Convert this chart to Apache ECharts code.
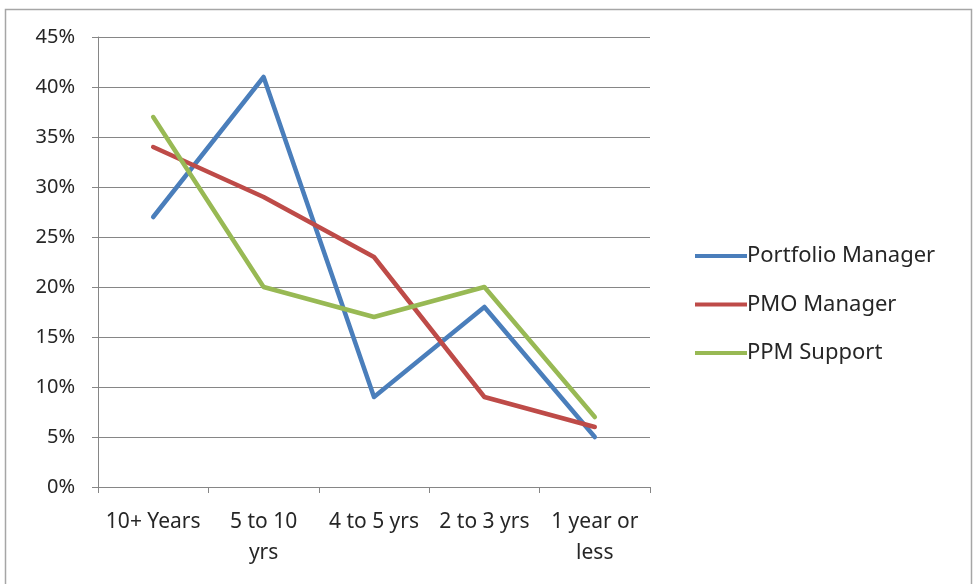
<!DOCTYPE html>
<html><head><meta charset="utf-8">
<script src="https://cdn.jsdelivr.net/npm/echarts@6/dist/echarts.min.js"></script>
<style>html,body{margin:0;padding:0;background:#fff}#c{width:976px;height:584px}</style>
</head><body><div id="c"></div>
<script>
const categories = ['10+ Years', '5 to 10\nyrs', '4 to 5 yrs', '2 to 3 yrs', '1 year or\nless'];
const portfolioManager = [27, 41, 9, 18, 5];
const pmoManager = [34, 29, 23, 9, 6];
const ppmSupport = [37, 20, 17, 20, 7];
const seriesNames = ['Portfolio Manager', 'PMO Manager', 'PPM Support'];
const colors = ['#4A7EBB', '#BE4B48', '#98B954'];

const font = 'Noto Sans';
const chart = echarts.init(document.getElementById('c'));
const mk = (name, data, color) => ({
  name, type: 'line', data, symbol: 'none', smooth: false,
  lineStyle: { width: 4.5, color, cap: 'round', join: 'round' }, itemStyle: { color }
});
chart.setOption({
  animation: false,
  graphic: [{ type: 'rect', shape: { x: 5.5, y: 9.5, width: 966, height: 600 }, style: { fill: 'none', stroke: '#a6a6a6', lineWidth: 1.5 }, silent: true }],
  grid: { left: 98, right: 326, top: 37, bottom: 97 },
  legend: {
    orient: 'vertical', left: 690, top: 239, itemGap: 24.5,
    icon: 'rect', itemWidth: 52, itemHeight: 4,
    textStyle: { fontFamily: font, fontSize: 22, lineHeight: 24, color: '#262626', padding: [0, 0, 0, -5] },
    data: seriesNames
  },
  xAxis: {
    type: 'category', data: categories, boundaryGap: true,
    axisLine: { lineStyle: { color: '#868686', width: 1 } },
    axisTick: { show: true, length: 6, inside: false, lineStyle: { color: '#868686' } },
    axisLabel: { fontFamily: font, fontSize: 21, color: '#262626', margin: 20, lineHeight: 31, interval: 0 }
  },
  yAxis: {
    type: 'value', min: 0, max: 45, interval: 5,
    axisLine: { show: true, lineStyle: { color: '#868686', width: 1 } },
    axisTick: { show: true, length: 6, lineStyle: { color: '#868686' } },
    splitLine: { lineStyle: { color: '#868686', width: 1 } },
    axisLabel: { fontFamily: font, fontSize: 20, color: '#262626', margin: 23, formatter: v => v + '%' }
  },
  series: [
    mk(seriesNames[0], portfolioManager, colors[0]),
    mk(seriesNames[1], pmoManager, colors[1]),
    mk(seriesNames[2], ppmSupport, colors[2])
  ]
});
</script></body></html>
